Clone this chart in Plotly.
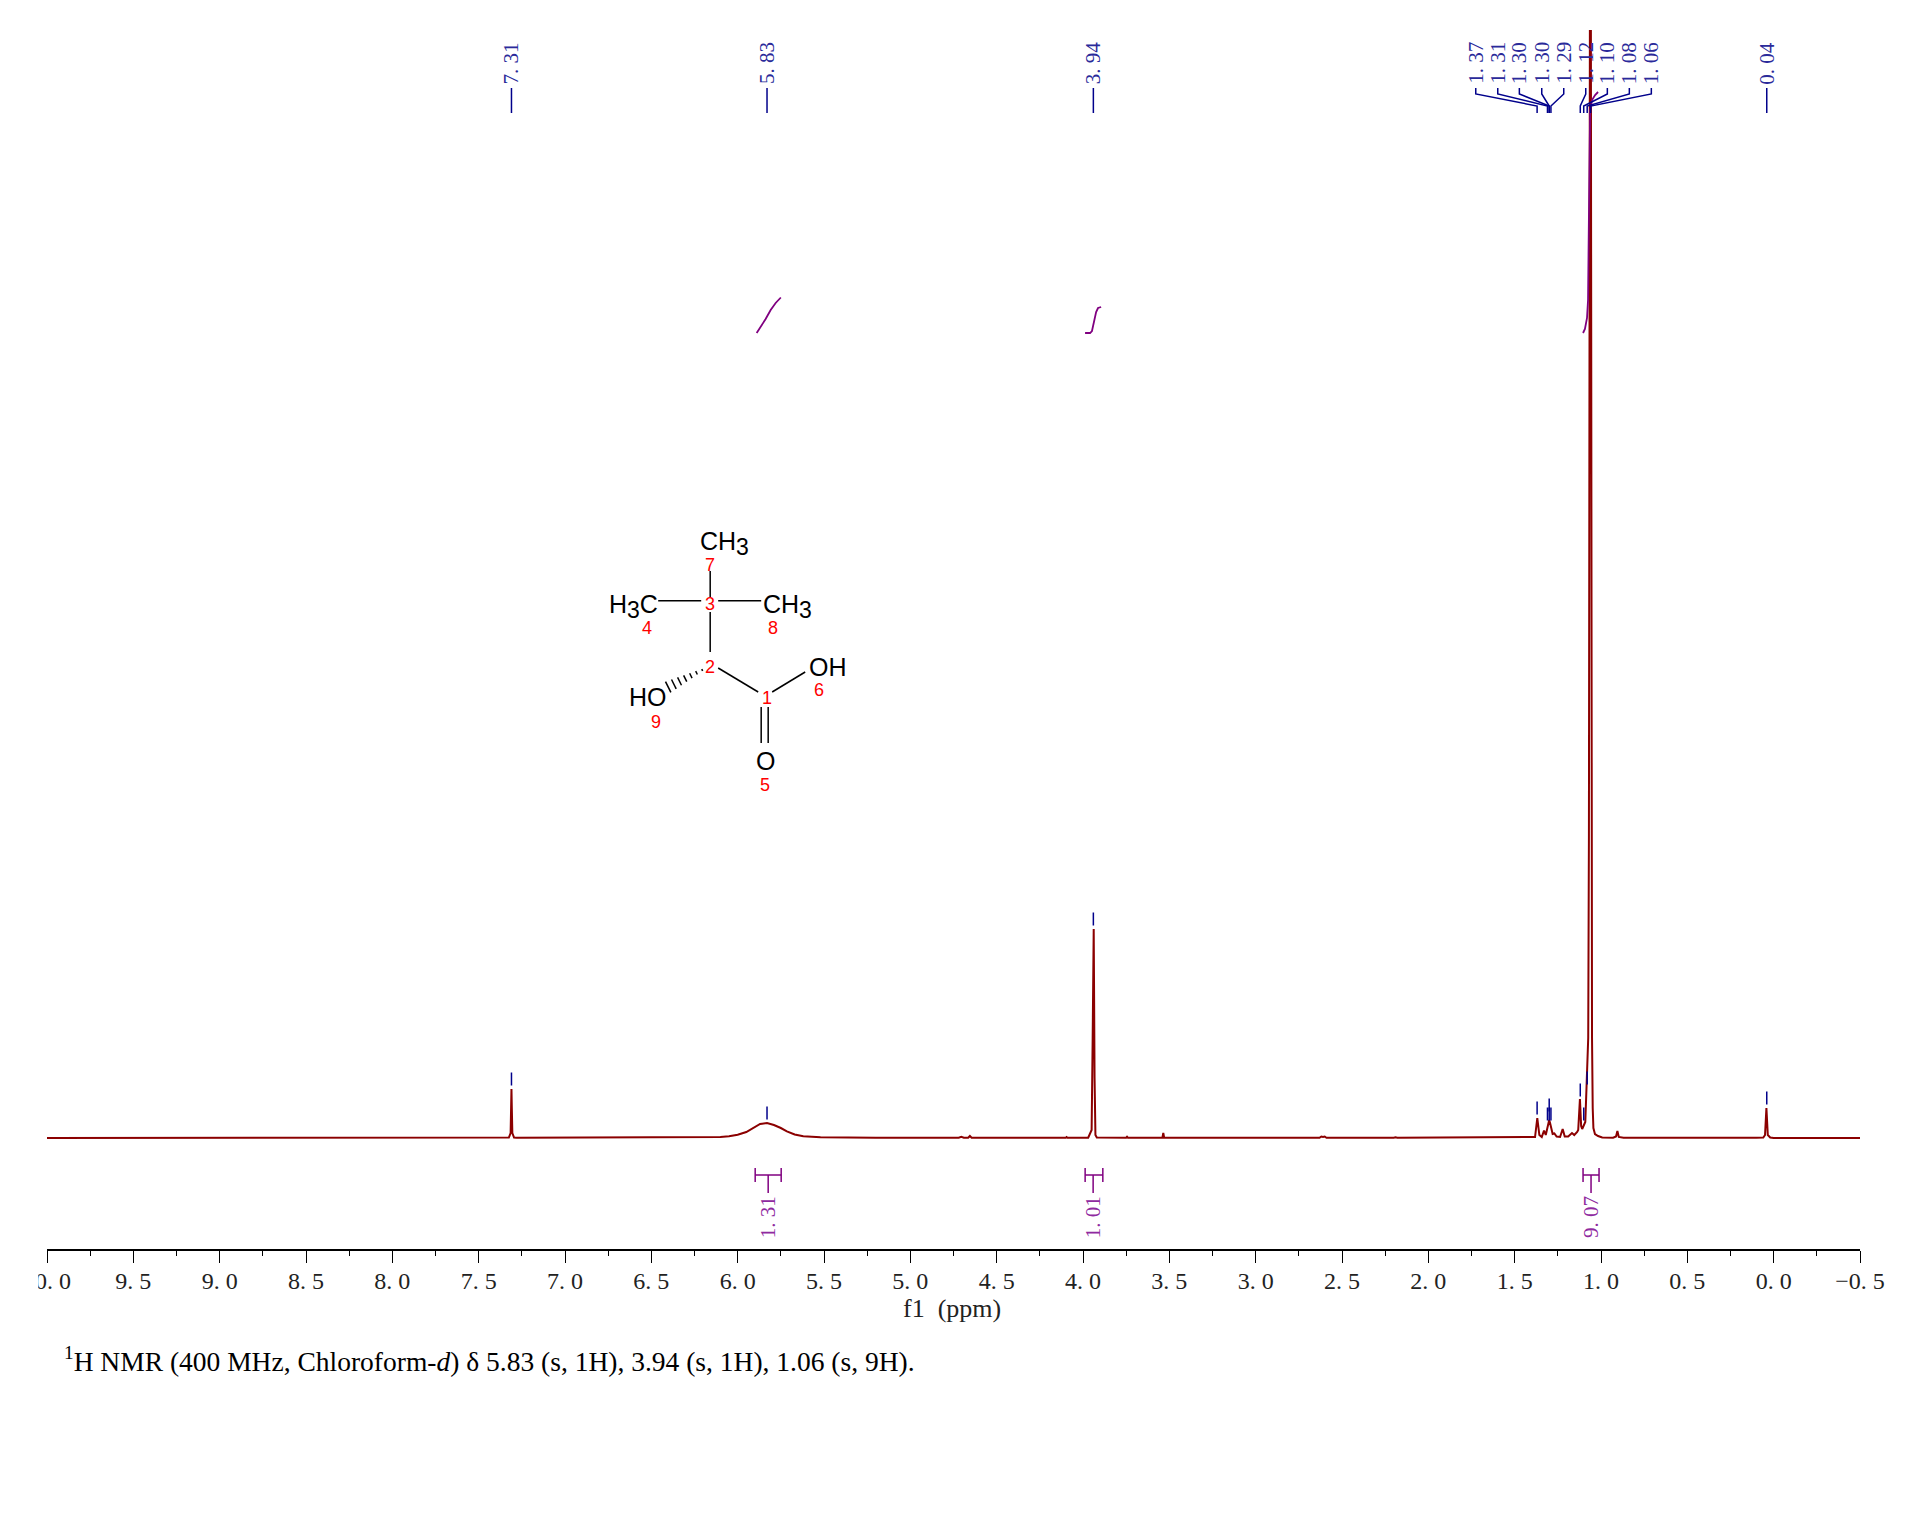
import plotly.graph_objects as go

# 1H NMR spectrum, intensity is in arbitrary units
SPEC_PPM = [10.0, 7.34, 7.325, 7.315, 7.312, 7.31, 7.308, 7.305, 7.295, 7.28,
            6.5, 6.3, 6.2, 6.1, 6.05, 6.0, 5.95, 5.91, 5.87, 5.83, 5.79, 5.75, 5.715, 5.67, 5.62, 5.52, 5.4, 5.2, 5.0,
            4.72, 4.705, 4.69, 4.665, 4.655, 4.645, 4.3, 4.1, 4.095, 4.09, 3.97,
            3.955, 3.95, 3.944, 3.938, 3.933, 3.928, 3.92, 3.75, 3.745, 3.74,
            3.54, 3.535, 3.53, 2.63, 2.62, 2.61, 2.6, 2.59, 2.2, 2.19, 2.18, 2.15, 2.145, 2.14,
            1.84, 1.835, 1.83, 1.82, 1.81, 1.42, 1.382, 1.369, 1.357, 1.343, 1.33, 1.32, 1.309, 1.3, 1.295, 1.29,
            1.28, 1.27, 1.257, 1.237, 1.222, 1.21, 1.19, 1.168, 1.155, 1.138, 1.132, 1.122, 1.115, 1.109,
            1.097, 1.091, 1.083, 1.074, 1.07, 1.064, 1.061, 1.058, 1.056, 1.052, 1.048, 1.044, 1.035, 1.017, 0.993,
            0.93, 0.913, 0.905, 0.897, 0.87, 0.1, 0.06, 0.05, 0.042, 0.034, 0.02, 0.0, -0.5]
SPEC_INT = [0, 0, 0.5, 5, 30, 49, 30, 5, 0.5, 0.2,
            0.3, 0.5, 0.8, 1, 1.8, 3.3, 6, 10, 14, 15, 13, 10, 6.7, 3.5, 1.8, 0.7, 0.4, 0.3, 0.3,
            0.3, 1.2, 0.3, 0.3, 2, 0.3, 0.2, 0.2, 0.9, 0.2, 0.3,
            6, 8, 100, 209, 60, 3, 0.5, 0.3, 1.2, 0.3,
            0.3, 5, 0.3, 0.3, 1.5, 1, 1.5, 0.3, 0.3, 0.8, 0.3, 0.3, 0.8, 0.3,
            0.3, 0.8, 0.3, 0.8, 0.3, 0.7, 1, 20, 3, 1, 7.5, 3, 12, 18, 15, 12,
            4, 4.5, 1.5, 1, 9, 1.5, 1.5, 5, 3, 6, 8, 39, 12, 9,
            13, 16, 55, 100, 300, 1000, 1600, 1000, 300, 100, 30, 10, 4, 2, 0.5,
            0.3, 1.5, 7, 1, 0.2, 0.2, 0.5, 3, 30, 3, 0.5, 0, 0]

# picked peaks
PEAK_LABELS = ['7. 31', '5. 83', '3. 94', '1. 37', '1. 31', '1. 30', '1. 30', '1. 29',
               '1. 12', '1. 10', '1. 08', '1. 06', '0. 04']
PEAK_PPM = [7.31, 5.83, 3.94, 1.37, 1.31, 1.30, 1.30, 1.29, 1.12, 1.10, 1.08, 1.06, 0.04]
PEAK_INT = [49, 15, 209, 20, 14, 23, 14, 14, 38, 14, 50, 1500, 30]

# integral curves
INT1_PPM = [5.89, 5.867, 5.838, 5.809, 5.78, 5.75]
INT1_Y = [805, 811, 819, 828, 835, 840.5]
INT2_PPM = [3.988, 3.959, 3.948, 3.936, 3.924, 3.913, 3.895]
INT2_Y = [805, 805, 807, 816, 826, 830, 831]
INT3_PPM = [1.104, 1.093, 1.081, 1.075, 1.069, 1.063, 1.052, 1.034, 1.017]
INT3_Y = [805, 809, 820, 838, 938, 1028, 1038, 1043, 1046]
INT_LABELS = ['1. 31', '1. 01', '9. 07']

# axis
TICK_VALS = [10.0, 9.5, 9.0, 8.5, 8.0, 7.5, 7.0, 6.5, 6.0, 5.5, 5.0, 4.5, 4.0, 3.5, 3.0, 2.5, 2.0, 1.5, 1.0, 0.5, 0.0, -0.5]
TICK_TEXT = ['10. 0', '9. 5', '9. 0', '8. 5', '8. 0', '7. 5', '7. 0', '6. 5', '6. 0', '5. 5', '5. 0', '4. 5',
             '4. 0', '3. 5', '3. 0', '2. 5', '2. 0', '1. 5', '1. 0', '0. 5', '0. 0', '\u22120. 5']
MINOR_VALS = [9.75, 9.25, 8.75, 8.25, 7.75, 7.25, 6.75, 6.25, 5.75, 5.25, 4.75, 4.25, 3.75, 3.25, 2.75, 2.25,
              1.75, 1.25, 0.75, 0.25, -0.25]

CAPTION = '<sup>1</sup>H NMR (400 MHz, Chloroform-<i>d</i>) \u03b4 5.83 (s, 1H), 3.94 (s, 1H), 1.06 (s, 9H).'

SERIF = 'Liberation Serif'
SANS = 'Liberation Sans'
BLUE = '#00008b'
BLUE_TXT = '#2a2a9a'
PURPLE = '#800080'
PURPLE_TXT = '#8f2a9f'
RED = '#8b0000'

# plot box in page pixels
L, R, T, B = 46.7, 1860, 30, 1249
BASE = 1138
SUB3 = '<sub><span style="font-size:23px">3</span></sub>'


def ppm_px(p):
    return L + (10 - p) * (R - L) / 10.5


fig = go.Figure()

fig.add_trace(go.Scatter(x=SPEC_PPM, y=SPEC_INT, mode='lines', line=dict(color=RED, width=2)))

# small tick over each picked peak
tx, ty = [], []
for p, h in zip(PEAK_PPM[:11] + PEAK_PPM[12:], PEAK_INT[:11] + PEAK_INT[12:]):
    tx += [p, p, None]
    ty += [h + 3.5, h + 16.5, None]
fig.add_trace(go.Scatter(x=tx, y=ty, mode='lines', line=dict(color=BLUE, width=1.5)))

for xs, ys in [(INT1_PPM, INT1_Y), (INT2_PPM, INT2_Y), (INT3_PPM, INT3_Y)]:
    fig.add_trace(go.Scatter(x=xs, y=ys, mode='lines', line=dict(color=PURPLE, width=1.8)))

# everything below lives on a hidden overlay axis in page pixels
label_px = [ppm_px(7.31), ppm_px(5.83), ppm_px(3.94), 1475.7, 1497.7, 1519.3, 1541.7, 1563.7,
            1585.7, 1607.3, 1629.3, 1651.3, ppm_px(0.04)]
cx, cy = [], []
annots = []
for lab, lx, p in zip(PEAK_LABELS, label_px, PEAK_PPM):
    px = ppm_px(p)
    cx += [lx, lx, px, px, None]
    cy += [88, 94, 106, 113, None]
    annots.append(dict(x=lx, y=63, text=lab, textangle=-90, font=dict(family=SERIF, size=21, color=BLUE_TXT)))
fig.add_trace(go.Scatter(x=cx, y=cy, xaxis='x2', yaxis='y2', mode='lines', line=dict(color=BLUE, width=1.5)))

# integral brackets under the baseline
bx, by = [], []
for lab, x0, x1, xm in zip(INT_LABELS, [755, 1085, 1583], [781, 1102.7, 1599], [768, 1093, 1591]):
    bx += [x0, x0, None, x1, x1, None, x0, x1, None, xm, xm, None]
    by += [1168, 1182, None, 1168, 1182, None, 1175, 1175, None, 1175, 1193, None]
    annots.append(dict(x=xm, y=1217, text=lab, textangle=-90, font=dict(family=SERIF, size=21, color=PURPLE_TXT)))
fig.add_trace(go.Scatter(x=bx, y=by, xaxis='x2', yaxis='y2', mode='lines', line=dict(color=PURPLE, width=1.5)))

# molecule
mx = [710, 710, None, 658, 701, None, 718, 761, None, 710, 710, None, 718, 758, None, 772, 805, None,
      761, 761, None, 768, 768, None]
my = [571, 597, None, 600.7, 600.7, None, 600.7, 600.7, None, 612, 652, None, 668, 692, None, 692, 672, None,
      707, 743, None, 707, 743, None]
n_hash = 7
for i in range(n_hash):
    f = i / (n_hash - 1)
    hx = 702 + (668 - 702) * f
    hy = 670 + (687 - 670) * f
    half = 1 + 5 * f
    mx += [hx - half * 0.45, hx + half * 0.45, None]
    my += [hy - half * 0.9, hy + half * 0.9, None]
fig.add_trace(go.Scatter(x=mx, y=my, xaxis='x2', yaxis='y2', mode='lines', line=dict(color='black', width=1.5)))

for txt, x, y in [('CH' + SUB3, 724, 543), ('H' + SUB3 + 'C', 633, 606), ('CH' + SUB3, 787, 606),
                  ('OH', 828, 667), ('HO', 648, 697), ('O', 765.5, 761)]:
    annots.append(dict(x=x, y=y, text=txt, font=dict(family=SANS, size=25, color='black')))
for txt, x, y in [('7', 710, 565), ('3', 710, 604), ('4', 647, 628), ('8', 773, 628), ('2', 710, 667),
                  ('1', 767, 698), ('6', 819, 690), ('9', 656, 722), ('5', 765, 785)]:
    annots.append(dict(x=x, y=y, text=txt, font=dict(family=SANS, size=18, color='#ff0000')))
for a in annots:
    a.update(xref='x2', yref='y2', showarrow=False)

# these two sit below the plot box, so they use paper coordinates
annots.append(dict(xref='paper', yref='paper', showarrow=False, x=(952 - L) / (R - L), y=(B - 1308) / (B - T),
                   xanchor='center', yanchor='middle',
                   text='f1\u00a0\u00a0(ppm)', font=dict(family=SERIF, size=26, color='#222222')))
annots.append(dict(xref='paper', yref='paper', showarrow=False, x=(62 - L) / (R - L), y=(B - 1359) / (B - T),
                   xanchor='left', yanchor='middle',
                   text=CAPTION, font=dict(family=SERIF, size=27.5, color='black')))

fig.update_layout(
    width=1912, height=1528,
    margin=dict(l=L, r=1912 - R, t=T, b=1528 - B, pad=0),
    paper_bgcolor='white', plot_bgcolor='white',
    showlegend=False,
    annotations=annots,
    # the left edge of the original cuts the first tick label
    shapes=[dict(type='rect', xref='paper', yref='paper', layer='above',
                 x0=-0.03, x1=(38 - L) / (R - L), y0=-0.05, y1=-0.002,
                 fillcolor='white', line=dict(width=0))],
    xaxis=dict(range=[10, -0.5], showgrid=False, zeroline=False, showline=True, linecolor='black', linewidth=1.5,
               ticks='outside', ticklen=12, tickwidth=1.3, tickcolor='black', ticklabelstandoff=-3,
               tickmode='array', tickvals=TICK_VALS, ticktext=TICK_TEXT, tickangle=0,
               tickfont=dict(family=SERIF, size=24, color='#222222'),
               minor=dict(tickmode='array', tickvals=MINOR_VALS, ticks='outside', ticklen=5, tickwidth=1.3,
                          tickcolor='black', showgrid=False)),
    yaxis=dict(range=[BASE - B, BASE - T], visible=False),
    xaxis2=dict(range=[L, R], overlaying='x', visible=False),
    yaxis2=dict(range=[B, T], overlaying='y', visible=False),
)

fig.write_html('out.html', post_script="document.body.style.margin='0';", config=dict(displayModeBar=False))
